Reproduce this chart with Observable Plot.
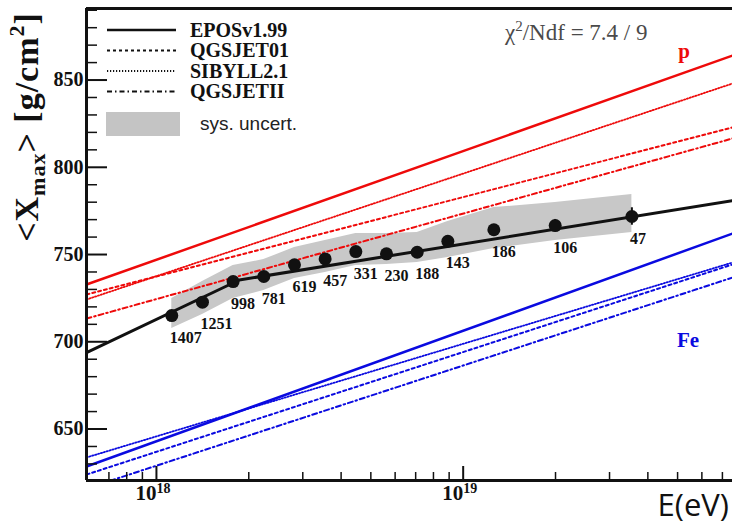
<!DOCTYPE html>
<html><head><meta charset="utf-8">
<script src="https://cdn.jsdelivr.net/npm/d3@7"></script>
<script src="https://cdn.jsdelivr.net/npm/@observablehq/plot@0.6"></script>
<style>body{margin:0;background:#fff}#chart svg{display:block}</style>
</head><body><div id="chart"></div>
<script>
// ---- data ----
const lgE       = [18.05,18.15,18.25,18.35,18.45,18.55,18.65,18.75,18.85,18.95,19.1,19.3,19.55];
const xmaxMean  = [715.0,722.7,734.5,737.4,744.1,747.5,751.7,750.4,751.3,757.6,764.2,766.6,771.8];
const xmaxStat  = [2,2,2,2,2,2,2,2.5,2.5,3,3,3.5,5];
const sysHigh   = [724.8,734.5,743.7,747.1,754.0,758.0,762.0,762.0,762.6,768.9,776.9,779.8,784.4];
const sysLow    = [707.6,715.6,724.8,729.4,736.2,739.7,743.7,744.3,745.4,748.3,753.4,758.0,762.6];
const nEvents   = [1407,1251,998,781,619,457,331,230,188,143,186,106,47];

const fitLgE    = [17.772, 18.27, 19.878];
const fitXmax   = [693.8, 735.4, 780.9];

const modelLgE      = [17.772, 19.878];
const pEPOS         = [732.8, 864.0];
const pQGSJET01     = [727.1, 822.8];
const pSIBYLL       = [724.2, 848.0];
const pQGSJETII     = [713.3, 816.5];
const feEPOS        = [628.5, 762.0];
const feQGSJET01    = [623.9, 744.3];
const feSIBYLL      = [633.7, 745.4];
const feQGSJETII    = [615.9, 736.8];

const legendNames = ["EPOSv1.99","QGSJET01","SIBYLL2.1","QGSJETII"];
const yMajorTicks = [650,700,750,800,850];
const yMinorTicks = [630,640,660,670,680,690,710,720,730,740,760,770,780,790,810,820,830,840,860,870,880,890];
const xMajorLg    = [18,19];
const xMinorTicks = [7e17,8e17,9e17,2e18,3e18,4e18,5e18,6e18,7e18,8e18,9e18,2e19,3e19,4e19,5e19,6e19,7e19];
const xDomainLg   = [17.772, 19.878];
const yDomain     = [620.5, 891];

// ---- tables ----
const points = lgE.map((l,i)=>({E:10**l, m:xmaxMean[i], s:xmaxStat[i], hi:sysHigh[i], lo:sysLow[i], n:nEvents[i]}));
const fit = fitLgE.map((l,i)=>({E:10**l, m:fitXmax[i]}));
const mk = arr => modelLgE.map((l,i)=>({E:10**l, m:arr[i]}));

const W=732,H=524,mL=86,mR=0,mT=8,mB=44;
const plotW=W-mL-mR, plotH=H-mT-mB;
const RED="#ee0a0a", BLUE="#0a0ae0";
const styles = {
  EPOS:{dash:null, w:2.5},
  Q01:{dash:"3,3", w:2},
  SIB:{dash:"1.2,1.8", w:1.8},
  Q2:{dash:"5,3,1.5,3", w:2}
};
const serif="'Liberation Serif','Times New Roman',serif";

function modelLine(arr, color, st){
  return Plot.line(mk(arr), {x:"E", y:"m", stroke:color, strokeWidth:st.w, strokeDasharray:st.dash, clip:true});
}

function annotations(){
  const g = d3.create("svg:g").attr("text-anchor","start");
  const legStyles=[styles.EPOS,styles.Q01,styles.SIB,styles.Q2];
  legendNames.forEach((name,i)=>{
    const cy = 30 + i*20.5;
    g.append("line").attr("x1",107).attr("x2",176).attr("y1",cy).attr("y2",cy)
      .attr("stroke","#111").attr("stroke-width",legStyles[i].w)
      .attr("stroke-dasharray",legStyles[i].dash);
    g.append("text").attr("x",190).attr("y",cy+6.8).attr("text-anchor","start").attr("font-family",serif)
      .attr("font-weight","bold").attr("font-size",20).attr("fill","#111").text(name);
  });
  g.append("rect").attr("x",106).attr("y",112).attr("width",74).attr("height",24).attr("fill","#c4c4c4");
  g.append("text").attr("x",200).attr("y",130).attr("text-anchor","start").attr("font-family","'Liberation Sans',Arial,sans-serif")
    .attr("font-size",19).attr("fill","#222").text("sys. uncert.");
  // chi2
  const c = g.append("text").attr("x",505).attr("y",40).attr("text-anchor","start").attr("font-family",serif).attr("font-size",23)
    .attr("fill","#4a4a4a");
  c.append("tspan").text("χ");
  c.append("tspan").attr("font-size",15).attr("dy",-9).text("2");
  c.append("tspan").attr("dy",9).text("/Ndf = 7.4 / 9");
  g.append("text").attr("x",684).attr("y",58).attr("text-anchor","middle").attr("font-family",serif)
    .attr("font-weight","bold").attr("font-size",21).attr("fill",RED).text("p");
  g.append("text").attr("x",688).attr("y",347).attr("text-anchor","middle").attr("font-family",serif)
    .attr("font-weight","bold").attr("font-size",21).attr("fill",BLUE).text("Fe");
  // y title
  const t = g.append("text").attr("transform","translate(38,127) rotate(-90)").attr("text-anchor","middle")
    .attr("font-family",serif).attr("font-weight","bold").attr("font-size",34).attr("letter-spacing",1).attr("fill","#111");
  t.append("tspan").text("<X");
  t.append("tspan").attr("font-size",22).attr("dy",7).text("max");
  t.append("tspan").attr("dy",-7).text("> [g/cm");
  t.append("tspan").attr("font-size",22).attr("dy",-14).text("2");
  t.append("tspan").attr("dy",14).text("]");
  // x title
  g.append("text").attr("x",729).attr("y",516).attr("text-anchor","end")
    .attr("font-family","'Open Sans','Noto Sans',sans-serif").attr("font-size",31).attr("fill","#111").text("E(eV)");
  return g.node();
}

const chart = Plot.plot({
  width:W, height:H, marginLeft:mL, marginRight:mR, marginTop:mT, marginBottom:mB,
  x:{type:"log", domain:xDomainLg.map(d=>10**d), axis:null},
  y:{domain:yDomain, axis:null},
  marks:[
    Plot.areaY(points,{x:"E", y1:"lo", y2:"hi", fill:"#c8c8c8"}),
    modelLine(pEPOS,RED,styles.EPOS),
    modelLine(pQGSJET01,RED,styles.Q01),
    modelLine(pSIBYLL,RED,styles.SIB),
    modelLine(pQGSJETII,RED,styles.Q2),
    modelLine(feEPOS,BLUE,styles.EPOS),
    modelLine(feQGSJET01,BLUE,styles.Q01),
    modelLine(feSIBYLL,BLUE,styles.SIB),
    modelLine(feQGSJETII,BLUE,styles.Q2),
    Plot.line(fit,{x:"E", y:"m", stroke:"#111", strokeWidth:3}),
    Plot.ruleX(points,{x:"E", y1:d=>d.m-d.s, y2:d=>d.m+d.s, stroke:"#111", strokeWidth:2}),
    Plot.dot(points,{x:"E", y:"m", r:6.5, fill:"#111"}),
    Plot.text(points,{x:"E", y:"m", text:d=>String(d.n), textAnchor:"start", dx:-2, dy:22,
      fontFamily:serif, fontWeight:"bold", fontSize:16, fill:"#111"}),
    // ticks
    Plot.tickY(yMajorTicks,{y:d=>d, insetRight:plotW-21, stroke:"#111", strokeWidth:2}),
    Plot.tickY(yMinorTicks,{y:d=>d, insetRight:plotW-11, stroke:"#111", strokeWidth:1.5}),
    Plot.tickX(xMajorLg,{x:d=>10**d, insetTop:plotH-14, stroke:"#111", strokeWidth:2}),
    Plot.tickX(xMinorTicks,{x:d=>d, insetTop:plotH-8, stroke:"#111", strokeWidth:1.5}),
    // frame
    Plot.ruleX([10**xDomainLg[0]],{stroke:"#111", strokeWidth:3}),
    Plot.ruleY([yDomain[0], yDomain[1]],{stroke:"#111", strokeWidth:3}),
    // tick labels
    Plot.text(yMajorTicks,{y:d=>d, frameAnchor:"left", text:d=>String(d), textAnchor:"end", dx:-3,
      fontFamily:serif, fontWeight:"bold", fontSize:20, fill:"#111"}),
    Plot.text(xMajorLg,{x:d=>10**d, frameAnchor:"bottom", text:()=>"10", textAnchor:"end", dy:19,
      fontFamily:serif, fontWeight:"bold", fontSize:21, fill:"#111"}),
    Plot.text(xMajorLg,{x:d=>10**d, frameAnchor:"bottom", text:d=>String(d), textAnchor:"start", dx:0, dy:12,
      fontFamily:serif, fontWeight:"bold", fontSize:14, fill:"#111"}),
    annotations
  ]
});
document.getElementById("chart").appendChild(chart);
</script>
</body></html>
